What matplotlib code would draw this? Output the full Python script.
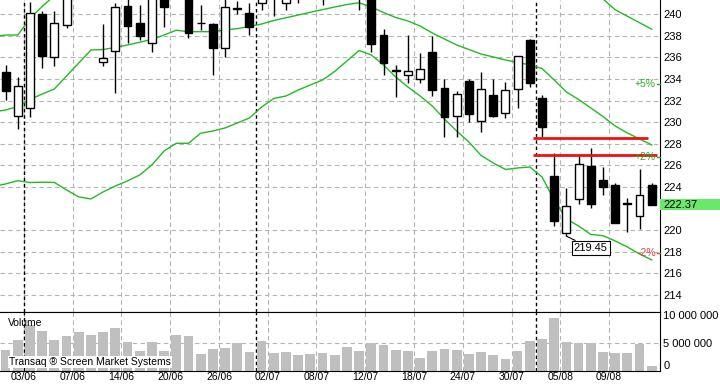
import matplotlib.pyplot as plt
import matplotlib.transforms as mtransforms

plt.rcParams['font.family'] = ['Liberation Sans', 'DejaVu Sans']

# daily candles, index 0 = 30/05 ... 53 = 14/08
opens = [234.67, 230.57, 231.28, 240.00, 236.06, 238.99, 243.50, 244.00, 235.56, 236.61,
         240.74, 239.14, 237.29, 242.30, 243.00, 242.60, 239.20, 239.08, 236.83, 240.45,
         240.07, 241.05, 242.50, 241.05, 242.60, 243.00, 242.00, 243.50, 244.00, 243.00,
         242.60, 238.06, 234.80, 234.36, 234.02, 236.52, 233.13, 230.57, 233.81, 230.13,
         232.51, 230.82, 233.04, 237.60, 232.21, 225.02, 219.72, 222.86, 225.94, 224.65,
         224.19, 222.50, 221.35, 224.19]
highs = [235.30, 234.18, 241.10, 240.28, 240.31, 243.00, 245.00, 246.00, 239.08, 241.05,
         241.50, 240.84, 243.00, 243.20, 244.50, 243.50, 240.84, 239.20, 241.40, 241.20,
         241.00, 242.20, 243.00, 242.30, 243.40, 244.00, 243.50, 244.50, 245.00, 244.00,
         243.20, 238.59, 235.29, 238.06, 236.37, 237.97, 233.96, 232.91, 234.00, 234.67,
         234.00, 233.74, 236.15, 237.65, 232.51, 227.10, 223.94, 226.90, 227.58, 225.88,
         224.35, 222.96, 225.67, 224.35]
lows = [232.05, 229.37, 230.50, 234.98, 235.22, 238.68, 241.80, 242.20, 235.22, 232.72,
        237.29, 237.60, 236.52, 238.83, 241.70, 237.76, 238.52, 234.36, 236.06, 240.00,
        238.06, 240.37, 239.85, 240.37, 241.00, 241.80, 240.84, 242.20, 242.50, 240.37,
        236.52, 234.36, 232.35, 233.65, 233.59, 232.42, 228.65, 228.65, 230.04, 229.12,
        230.45, 230.36, 231.28, 233.22, 228.65, 220.39, 219.45, 222.40, 222.03, 223.26,
        220.65, 219.87, 220.12, 222.30]
closes = [232.90, 233.34, 240.07, 236.15, 239.14, 242.20, 244.20, 243.00, 235.90, 240.62,
          238.92, 237.97, 242.20, 240.62, 243.80, 238.22, 239.14, 236.83, 240.68, 240.55,
          238.83, 241.80, 242.00, 241.90, 242.00, 243.50, 243.00, 244.00, 243.20, 242.50,
          237.23, 235.44, 234.72, 234.75, 234.89, 232.97, 230.45, 232.58, 230.73, 233.04,
          230.60, 232.97, 236.12, 233.65, 229.58, 220.88, 222.27, 226.13, 222.40, 224.03,
          220.70, 222.45, 223.26, 222.37]
volumes = [3.83, 5.50, 8.20, 7.13, 5.50, 6.35, 6.95, 6.53, 6.95, 7.67,
           5.14, 3.64, 5.14, 3.57, 6.46, 6.35, 2.98, 3.94, 4.12, 5.02,
           3.47, 5.32, 3.16, 3.47, 2.85, 2.98, 3.21, 2.85, 4.30, 3.52,
           5.09, 4.60, 3.83, 3.57, 2.38, 3.64, 3.94, 3.75, 2.98, 3.39,
           2.80, 2.08, 3.57, 5.32, 5.74, 9.48, 5.14, 5.02, 5.09, 3.34,
           3.29, 3.16, 4.78, 0.87]  # millions

# bands start one day earlier (index -1, off the left edge)
band_mid = [230.95, 231.12, 231.45, 232.10, 232.60, 233.07, 234.27, 235.47, 236.67, 236.72,
            236.91, 237.14, 237.39, 237.66, 238.06, 238.50, 238.37, 238.37, 238.37, 238.52,
            238.65, 238.85, 239.08, 239.40, 239.66, 239.91, 240.17, 240.41, 240.65, 240.88,
            241.04, 240.65, 240.14, 239.68, 239.36, 238.89, 238.25, 237.69, 237.14, 236.72,
            236.30, 236.03, 235.75, 235.52, 235.29, 234.96, 233.90, 232.79, 232.10, 231.31,
            230.52, 229.64, 229.00, 228.44, 227.89]
band_low = [224.05, 224.28, 224.58, 224.41, 224.44, 224.42, 223.72, 223.08, 222.89, 223.54,
            224.09, 224.56, 225.11, 226.04, 227.33, 228.04, 228.04, 228.97, 229.18, 229.46,
            229.92, 230.38, 231.40, 232.19, 232.42, 232.97, 233.44, 233.90, 234.69, 235.66,
            236.63, 236.21, 235.29, 234.18, 233.25, 232.42, 231.49, 230.29, 229.18, 228.16,
            226.92, 226.22, 225.62, 225.76, 225.85, 224.93, 222.80, 221.04, 220.39, 219.61,
            219.49, 219.01, 218.45, 217.80, 217.25]
band_up = [237.90, 238.06, 238.06, 239.60, 240.70, 241.70, 244.82, 247.86, 250.45, 249.90,
           249.73, 249.72, 249.67, 249.28, 248.79, 248.96, 248.70, 247.77, 247.56, 247.58,
           247.38, 247.32, 246.76, 246.61, 246.90, 246.85, 246.90, 246.92, 246.61, 246.10,
           245.45, 245.09, 244.99, 245.18, 245.47, 245.36, 245.01, 245.09, 245.10, 245.28,
           245.68, 245.84, 245.88, 245.28, 244.73, 244.99, 245.00, 244.54, 243.81, 243.01,
           241.40, 240.40, 239.80, 239.20, 238.60]

label_idx = [2, 6, 10, 14, 18, 22, 26, 30, 34, 38, 42, 46, 50]
date_labels = ['03/06', '07/06', '14/06', '20/06', '26/06', '02/07', '08/07',
               '12/07', '18/07', '24/07', '30/07', '05/08', '09/08']
month_start_idx = [2, 21, 44]
price_ticks = [214, 216, 218, 220, 224, 226, 228, 230, 232, 234, 236, 238, 240]

# user drawn levels: (from index, to index, price)
red_levels = [(43.3, 52.7, 228.55), (43.3, 53.4, 226.95)]
pct_levels = [5, 2, -2]

idx = list(range(len(closes)))
band_idx = list(range(-1, len(closes)))
last = closes[-1]

fig = plt.figure(figsize=(7.2, 3.84), dpi=100)
ax = fig.add_axes([0, 0.1875, 0.91667, 0.8125])
axv = fig.add_axes([0, 0.03385, 0.91667, 0.15365], sharex=ax)

grid_kw = dict(color='#b4b4b4', linestyle=(0, (4, 3)), linewidth=0.8)
sep_kw = dict(color='black', linestyle=(0, (2.5, 2)), linewidth=1, zorder=1.5)

# price panel
ax.grid(True, **grid_kw)
ax.set_axisbelow(True)
for m in month_start_idx:
    ax.axvline(m - 0.5, **sep_kw)
    axv.axvline(m - 0.5, **sep_kw)

green = '#22bb22'
ax.plot(band_idx, band_up, color=green, lw=1, zorder=2)
ax.plot(band_idx, band_mid, color=green, lw=1, zorder=2)
ax.plot(band_idx, band_low, color=green, lw=1, zorder=2)

ax.vlines(idx, lows, highs, color='black', lw=1, zorder=3)
bottoms = [min(o, c) for o, c in zip(opens, closes)]
heights = [max(abs(c - o), 0.06) for o, c in zip(opens, closes)]
colors = ['white' if c >= o else 'black' for o, c in zip(opens, closes)]
ax.bar(idx, heights, bottom=bottoms, width=0.65, color=colors,
       edgecolor='black', linewidth=1, zorder=4)

for x0, x1, lvl in red_levels:
    ax.hlines(lvl, x0, x1, color='#ee1111', lw=2, zorder=5)

trans = mtransforms.blended_transform_factory(ax.transAxes, ax.transData)
for p in pct_levels:
    lvl = last * (1 + p / 100)
    col = '#2ea82e' if p > 0 else '#e84040'
    ax.text(0.9935, lvl, '%+d%%' % p, transform=trans, ha='right', va='center',
            fontsize=7.5, color=col, zorder=6)
    ax.plot([0.995, 1.0], [lvl, lvl], transform=trans, color=col, lw=1,
            clip_on=False, zorder=6)

ax.add_patch(plt.Rectangle((1.0, last - 0.5), 0.0909, 1.0, transform=trans,
                           facecolor='#6ae86a', edgecolor='none', clip_on=False, zorder=6))
ax.text(1.0045, last, '%.2f' % last, transform=trans, ha='left', va='center',
        fontsize=8, color='black', zorder=7)

ax.annotate('219.45', xy=(46, 219.45), xytext=(48.0, 218.35), ha='center', va='center',
            fontsize=8, zorder=7,
            bbox=dict(boxstyle='square,pad=0.2', fc='white', ec='black', lw=0.8),
            arrowprops=dict(arrowstyle='-', color='black', lw=0.8, shrinkA=0, shrinkB=0))

ax.set_xlim(-0.46, 53.68)
ax.set_ylim(212.43, 241.3)
ax.yaxis.tick_right()
ax.set_yticks(price_ticks)
ax.tick_params(axis='y', length=0, pad=2.5, labelsize=8)
ax.set_xticks([i - 0.5 for i in label_idx])
ax.tick_params(axis='x', length=0, labelbottom=False)
ax.spines['left'].set_visible(False)
ax.spines['top'].set_visible(False)

# volume panel
axv.xaxis.grid(True, **grid_kw)
axv.axhline(5e6, zorder=0.5, **grid_kw)
axv.set_axisbelow(True)
axv.bar(idx, [v * 1e6 for v in volumes], width=0.8, color='#bfbfbf', zorder=2)
axv.set_ylim(0, 10.56e6)
axv.yaxis.tick_right()
axv.set_yticks([0, 5e6, 10e6])
axv.set_yticklabels(['0', '5 000 000', '10 000 000'])
axv.get_yticklabels()[0].set_va('bottom')
axv.tick_params(axis='y', length=0, pad=2.5, labelsize=8)
axv.set_xticks([i - 0.5 for i in label_idx])
axv.set_xticklabels(date_labels)
axv.tick_params(axis='x', length=0, pad=1, labelsize=7.5)
axv.spines['left'].set_visible(False)
axv.text(0.012, 0.9, 'Volume', transform=axv.transAxes, ha='left', va='top',
         fontsize=7.5, zorder=5)
axv.text(0.014, 0.155, 'Transaq \u00ae Screen Market Systems', transform=axv.transAxes,
         ha='left', va='center', fontsize=7.5, zorder=5,
         bbox=dict(boxstyle='square,pad=0.1', fc='white', ec='none'))

fig.savefig('out.png', dpi=100)
